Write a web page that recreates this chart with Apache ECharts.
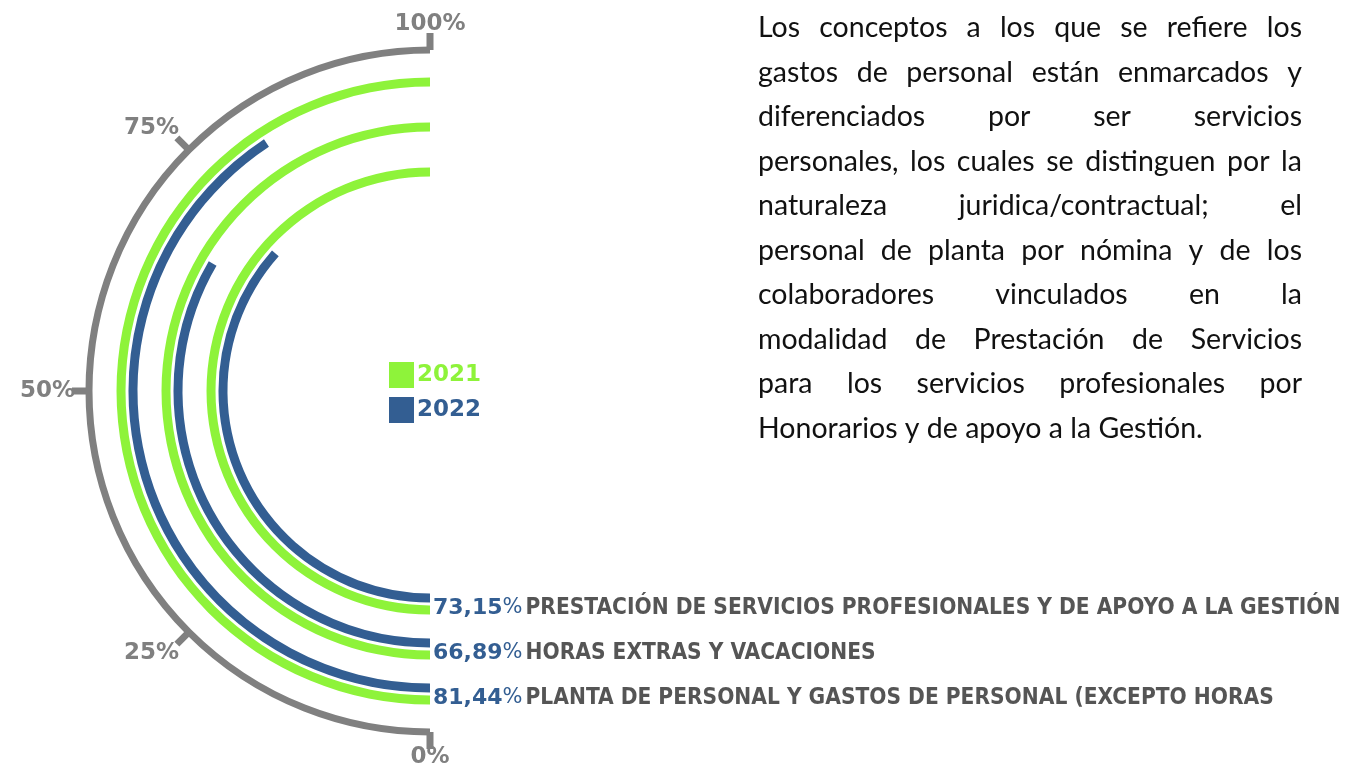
<!DOCTYPE html>
<html>
<head>
<meta charset="utf-8">
<style>
    html, body { margin: 0; padding: 0; background: #ffffff; }
    #chart { width: 1361px; height: 769px; }
</style>
<script src="https://cdn.jsdelivr.net/npm/echarts@6/dist/echarts.min.js"></script>
</head>
<body>
<div id="chart"></div>
<script>
    // inner ring -> outer ring
    var categories = [
        'PRESTACIÓN DE SERVICIOS PROFESIONALES Y DE APOYO A LA GESTIÓN',
        'HORAS EXTRAS Y VACACIONES',
        'PLANTA DE PERSONAL Y GASTOS DE PERSONAL (EXCEPTO HORAS'
    ];
    var values2021 = [100, 100, 100];
    var values2022 = [73.15, 66.89, 81.44];
    var seriesNames = ['2021', '2022'];
    var angleTicks = [0, 25, 50, 75, 100];

    var paragraphLines = [
        'Los conceptos a los que se refiere los',
        'gastos de personal están enmarcados y',
        'diferenciados por ser servicios',
        'personales, los cuales se distinguen por la',
        'naturaleza juridica/contractual; el',
        'personal de planta por nómina y de los',
        'colaboradores vinculados en la',
        'modalidad de Prestación de Servicios',
        'para los servicios profesionales por',
        'Honorarios y de apoyo a la Gestión.'
    ];

    var GREEN = '#8ef33a';
    var BLUE = '#335e92';
    var GREY = '#808080';
    var CENTER = [430, 391];
    var RING_RADIUS = [190.5, 325.5];
    var AXIS_RADIUS = 341;
    var LABEL_FONT = 'DejaVu Sans';

    function pctText(v) {
        return v.toFixed(2).replace('.', ',');
    }

    var measureCtx = document.createElement('canvas').getContext('2d');

    function textWidth(text, font) {
        measureCtx.font = font;
        return measureCtx.measureText(text).width;
    }

    // justified paragraph, one text element per word
    function paragraphGraphics() {
        var font = '28.5px Lato';
        var left = 758, right = 1302, top = 28, lineHeight = 44.5;
        var items = [];
        paragraphLines.forEach(function (line, i) {
            var words = line.split(' ');
            var y = top + i * lineHeight;
            var last = i === paragraphLines.length - 1;
            var sum = 0;
            words.forEach(function (w) { sum += textWidth(w, font); });
            var gap = last || words.length < 2
                ? textWidth(' ', font)
                : (right - left - sum) / (words.length - 1);
            var x = left;
            words.forEach(function (w) {
                items.push({
                    type: 'text',
                    x: x,
                    y: y,
                    style: {
                        text: w,
                        font: font,
                        fill: '#111111',
                        verticalAlign: 'middle'
                    }
                });
                x += textWidth(w, font) + gap;
            });
        });
        return items;
    }

    // category labels beside the start of each ring pair
    function ringLabelGraphics() {
        var band = (RING_RADIUS[1] - RING_RADIUS[0]) / categories.length;
        return categories.map(function (name, i) {
            var r = RING_RADIUS[0] + band * (i + 0.5);
            return {
                type: 'text',
                x: CENTER[0] + 3,
                y: CENTER[1] + r + 4,
                style: {
                    text: '{v|' + pctText(values2022[i]) + '}{p|%}{n|' + name + '}',
                    verticalAlign: 'middle',
                    rich: {
                        v: { fill: BLUE, fontFamily: LABEL_FONT, fontWeight: 'bold', fontSize: 22 },
                        p: { fill: BLUE, fontFamily: LABEL_FONT, fontSize: 21, padding: [0, 3, 0, 0] },
                        n: { fill: '#555555', fontFamily: 'DejaVu Sans Condensed', fontWeight: 'bold', fontSize: 22.5 }
                    }
                }
            };
        });
    }

    var chart = echarts.init(document.getElementById('chart'));

    chart.setOption({
        backgroundColor: '#ffffff',
        animation: false,
        legend: {
            orient: 'vertical',
            left: 389,
            top: 362,
            padding: 0,
            itemWidth: 25,
            itemHeight: 26,
            itemGap: 9,
            icon: 'rect',
            data: [
                { name: seriesNames[0], textStyle: { color: GREEN } },
                { name: seriesNames[1], textStyle: { color: BLUE } }
            ],
            textStyle: {
                fontFamily: LABEL_FONT,
                fontWeight: 'bold',
                fontSize: 23,
                padding: [4, 0, 0, -2]
            }
        },
        polar: [
            { center: CENTER, radius: RING_RADIUS },
            { center: CENTER, radius: [0, AXIS_RADIUS] }
        ],
        angleAxis: [
            {
                polarIndex: 0,
                type: 'value',
                min: 0,
                max: 200,
                startAngle: 270,
                clockwise: true,
                show: false
            },
            {
                polarIndex: 1,
                type: 'value',
                min: angleTicks[0],
                max: angleTicks[angleTicks.length - 1],
                interval: 25,
                startAngle: 270,
                endAngle: 90,
                clockwise: true,
                axisLine: { lineStyle: { color: GREY, width: 7 } },
                axisTick: { length: 17, lineStyle: { color: GREY, width: 7 } },
                splitLine: { show: false },
                axisLabel: {
                    margin: 14,
                    color: GREY,
                    fontFamily: LABEL_FONT,
                    fontWeight: 'bold',
                    fontSize: 23,
                    formatter: '{value}%'
                }
            }
        ],
        radiusAxis: [
            {
                polarIndex: 0,
                type: 'category',
                data: categories,
                show: false
            },
            {
                polarIndex: 1,
                type: 'value',
                min: 0,
                max: 1,
                show: false
            }
        ],
        series: [
            {
                name: seriesNames[1],
                type: 'bar',
                coordinateSystem: 'polar',
                polarIndex: 0,
                data: values2022,
                barWidth: 9,
                barGap: '33%',
                itemStyle: { color: BLUE }
            },
            {
                name: seriesNames[0],
                type: 'bar',
                coordinateSystem: 'polar',
                polarIndex: 0,
                data: values2021,
                barWidth: 9,
                barGap: '33%',
                itemStyle: { color: GREEN }
            }
        ],
        graphic: ringLabelGraphics().concat(paragraphGraphics())
    });
</script>
</body>
</html>
